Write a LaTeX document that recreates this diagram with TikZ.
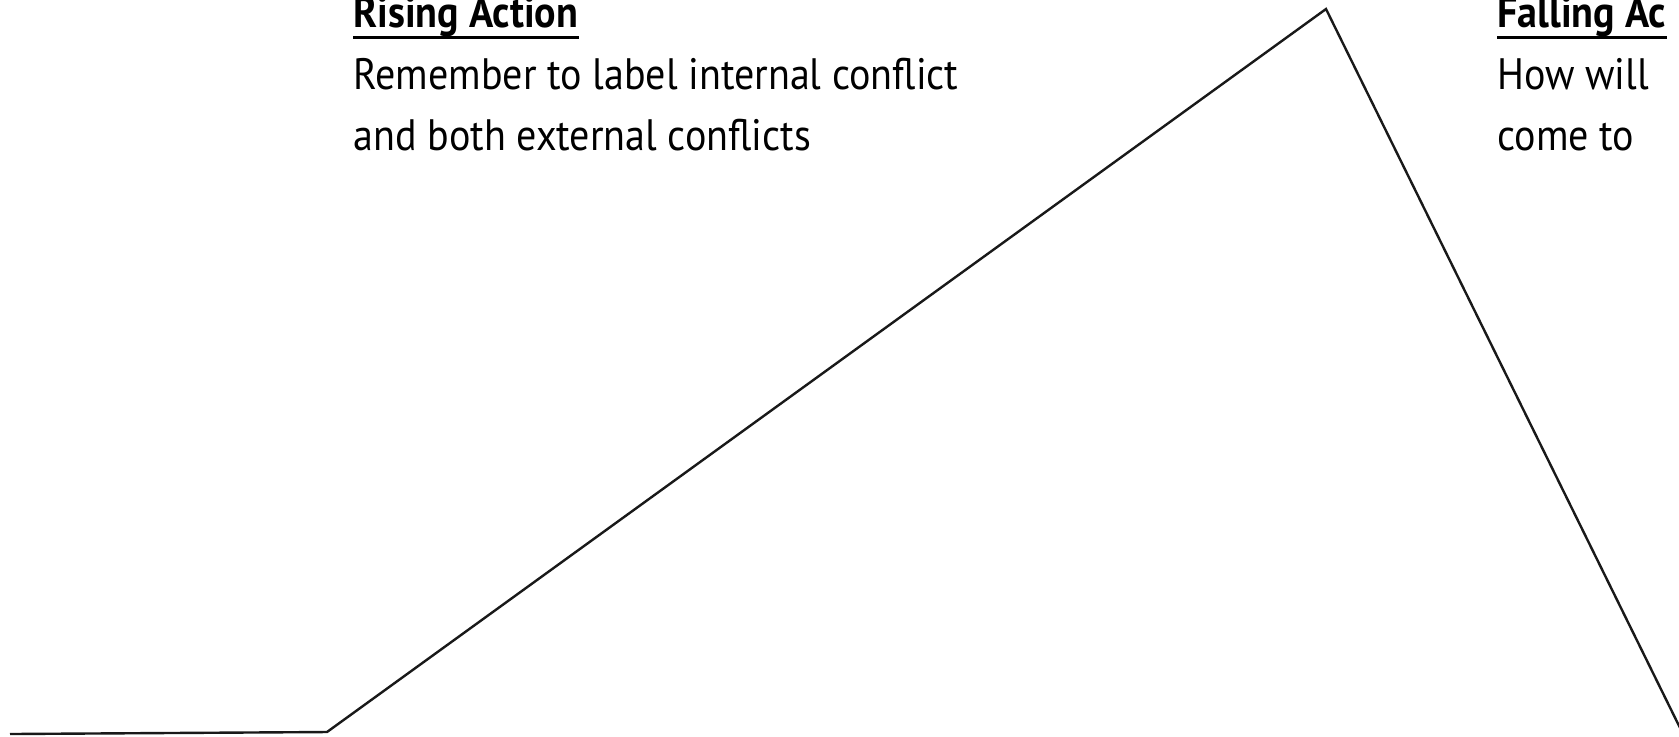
\documentclass[tikz,border=0pt]{standalone}
\usepackage{fontspec}
\setmainfont{PT Sans}
\usepackage{graphicx}
\usetikzlibrary{positioning}
\newcommand{\squeeze}[1]{\scalebox{0.91}[1]{#1}}

\begin{document}
\begin{tikzpicture}[
    x=0.5pt, y=-0.5pt,
    plotline/.style={draw=black!90, line width=1.2pt, line join=miter},
    heading/.style={anchor=base west, inner sep=0pt, font=\fontsize{22}{26}\selectfont\bfseries},
    note/.style={anchor=base west, inner sep=0pt, font=\fontsize{22}{26}\selectfont},
    underline/.style={draw=black, line width=1.5pt},
]
    % Frame
    \clip (0, 0) rectangle (1679, 736);

    % Plot line
    \coordinate (start) at (10, 734);
    \coordinate (rise) at (327, 732);
    \coordinate (climax) at (1326, 9);
    \coordinate (fall) at (1685, 738);
    \draw[plotline] (start) -- (rise) -- (climax) -- (fall);

    % Rising action
    \node[heading] (rise head) at (353, 27) {\squeeze{Rising Action}};
    \draw[underline] ([yshift=-5pt]rise head.base west) -- ([yshift=-5pt]rise head.base east);
    \node[note] (rise line1) at (353, 89) {\squeeze{Remember to label internal conflict}};
    \node[note] (rise line2) at (353, 150) {\squeeze{and both external conflicts}};

    % Falling action
    \node[heading] (fall head) at (1497, 27) {\squeeze{Falling Ac}};
    \draw[underline] ([yshift=-5pt]fall head.base west) -- ([yshift=-5pt]fall head.base east);
    \node[note] (fall line1) at (1497, 89) {\squeeze{How will}};
    \node[note] (fall line2) at (1497, 150) {\squeeze{come to}};
\end{tikzpicture}
\end{document}
